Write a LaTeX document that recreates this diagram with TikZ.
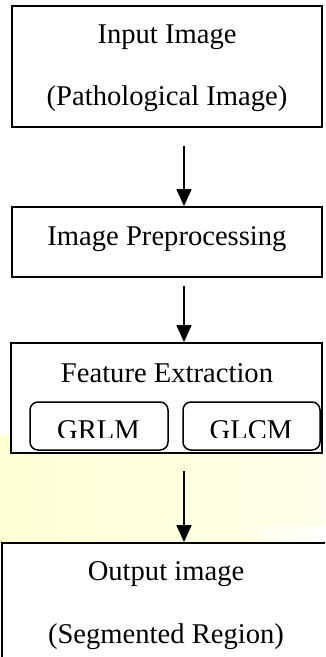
\documentclass[tikz,border=0pt]{standalone}
\usepackage{fontspec}
\setmainfont{Liberation Serif}
\usetikzlibrary{arrows.meta}
\definecolor{ylw}{RGB}{255,255,212}
\definecolor{ylwlight}{RGB}{255,255,234}
\tikzset{
  box/.style={draw=black, line width=1.8pt, fill=white, inner sep=0pt},
  subbox/.style={draw=black, line width=1.5pt, fill=white, rounded corners=8pt, inner sep=0pt},
  txt/.style={inner sep=0pt, anchor=base, font=\fontsize{28.6}{34}\selectfont},
  arr/.style={line width=1.8pt, -{Triangle[width=15pt,length=17pt]}}
}
\begin{document}
\begin{tikzpicture}[x=1pt,y=-1pt]
\clip (0,0) rectangle (325,657);
\fill[white] (0,0) rectangle (325,657);
% yellow background band
\shade[left color=ylw, right color=ylwlight] (0,435) rectangle (325,543);
\shade[left color=ylw!25!ylwlight, right color=white] (240,526) rectangle (325,543);

\coordinate (ax) at (184,0);

% boxes
\node[box, minimum width=310pt, minimum height=121pt] (b1) at (167,66.5) {};
\node[box, minimum width=310pt, minimum height=70pt] (b2) at (167,242) {};
\node[box, minimum width=311pt, minimum height=110pt] (b3) at (166.5,398) {};
\node[box, minimum width=338pt, minimum height=157pt] (b4) at (171,621.5) {};

\node[subbox, minimum width=138pt, minimum height=48pt] (s1) at (99,426) {};
\node[subbox, minimum width=137pt, minimum height=48pt] (s2) at (251.5,426) {};

% texts
\node[txt] (t1) at (167,43) {Input Image};
\node[txt] (t2) at (167,105) {(Pathological Image)};
\node[txt] (t3) at (167,245) {Image Preprocessing};
\node[txt] (t4) at (167,382) {Feature Extraction};
\begin{scope}
\clip (0,0) rectangle (325,437);
\node[txt] (t5) at (98.5,439) {GRLM};
\node[txt] (t6) at (251,439) {GLCM};
\end{scope}
\node[txt] (t7) at (166,580) {Output image};
\node[txt] (t8) at (166,643) {(Segmented Region)};

% arrows
\draw[arr, shorten <=18pt] (b1.south -| ax) -- (b2.north -| ax);
\draw[arr, shorten <=8pt] (b2.south -| ax) -- (b3.north -| ax);
\draw[arr, shorten <=17pt] (b3.south -| ax) -- (b4.north -| ax);
\end{tikzpicture}
\end{document}
